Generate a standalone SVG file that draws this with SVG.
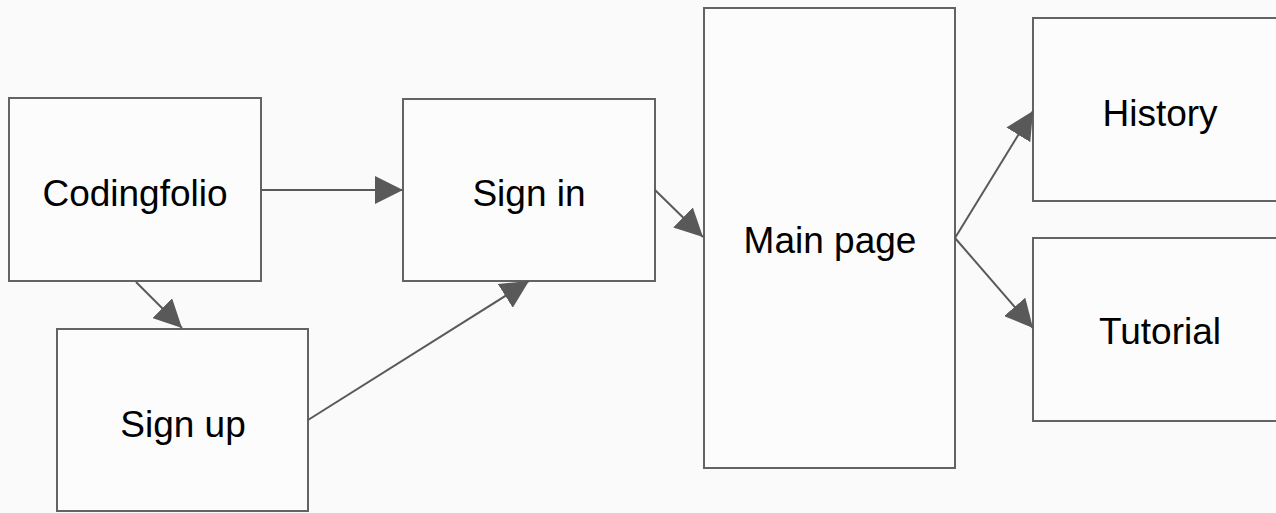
<svg xmlns="http://www.w3.org/2000/svg" width="1276" height="513" viewBox="0 0 1276 513">
<style>
.box{fill:#fcfcfc;stroke:#636363;stroke-width:2}
.lbl{font-family:"Liberation Sans",Arial,sans-serif;font-size:37px;fill:#000;text-anchor:middle}
.edge{stroke:#595959;stroke-width:2;fill:none;marker-end:url(#ah)}
</style>
<defs>
<marker id="ah" markerUnits="userSpaceOnUse" markerWidth="28" markerHeight="28" viewBox="0 0 26 26" refX="26" refY="13" orient="auto">
<path d="M0,0 L26,13 L0,26 Z" fill="#595959"/>
</marker>
</defs>
<rect width="1276" height="513" fill="#fafafa"/>
<g id="codingfolio"><rect class="box" x="9" y="98" width="252" height="183"/><text class="lbl" x="135" y="206">Codingfolio</text></g>
<g id="signin"><rect class="box" x="403" y="99" width="252" height="182"/><text class="lbl" x="529" y="206">Sign in</text></g>
<g id="signup"><rect class="box" x="57" y="329" width="251" height="182"/><text class="lbl" x="183" y="437">Sign up</text></g>
<g id="mainpage"><rect class="box" x="704" y="8" width="251" height="460"/><text class="lbl" x="830" y="253">Main page</text></g>
<g id="history"><rect class="box" x="1033" y="18" width="252" height="183"/><text class="lbl" x="1160" y="126">History</text></g>
<g id="tutorial"><rect class="box" x="1033" y="238" width="252" height="183"/><text class="lbl" x="1160" y="344">Tutorial</text></g>
<g id="connectors">
<line class="edge" x1="261" y1="190" x2="403" y2="190"/>
<line class="edge" x1="136" y1="282" x2="182" y2="328"/>
<line class="edge" x1="308" y1="420" x2="529" y2="281"/>
<line class="edge" x1="655" y1="190" x2="703" y2="237"/>
<line class="edge" x1="955" y1="238" x2="1033" y2="111"/>
<line class="edge" x1="955" y1="238" x2="1033" y2="328"/>
</g>
</svg>
